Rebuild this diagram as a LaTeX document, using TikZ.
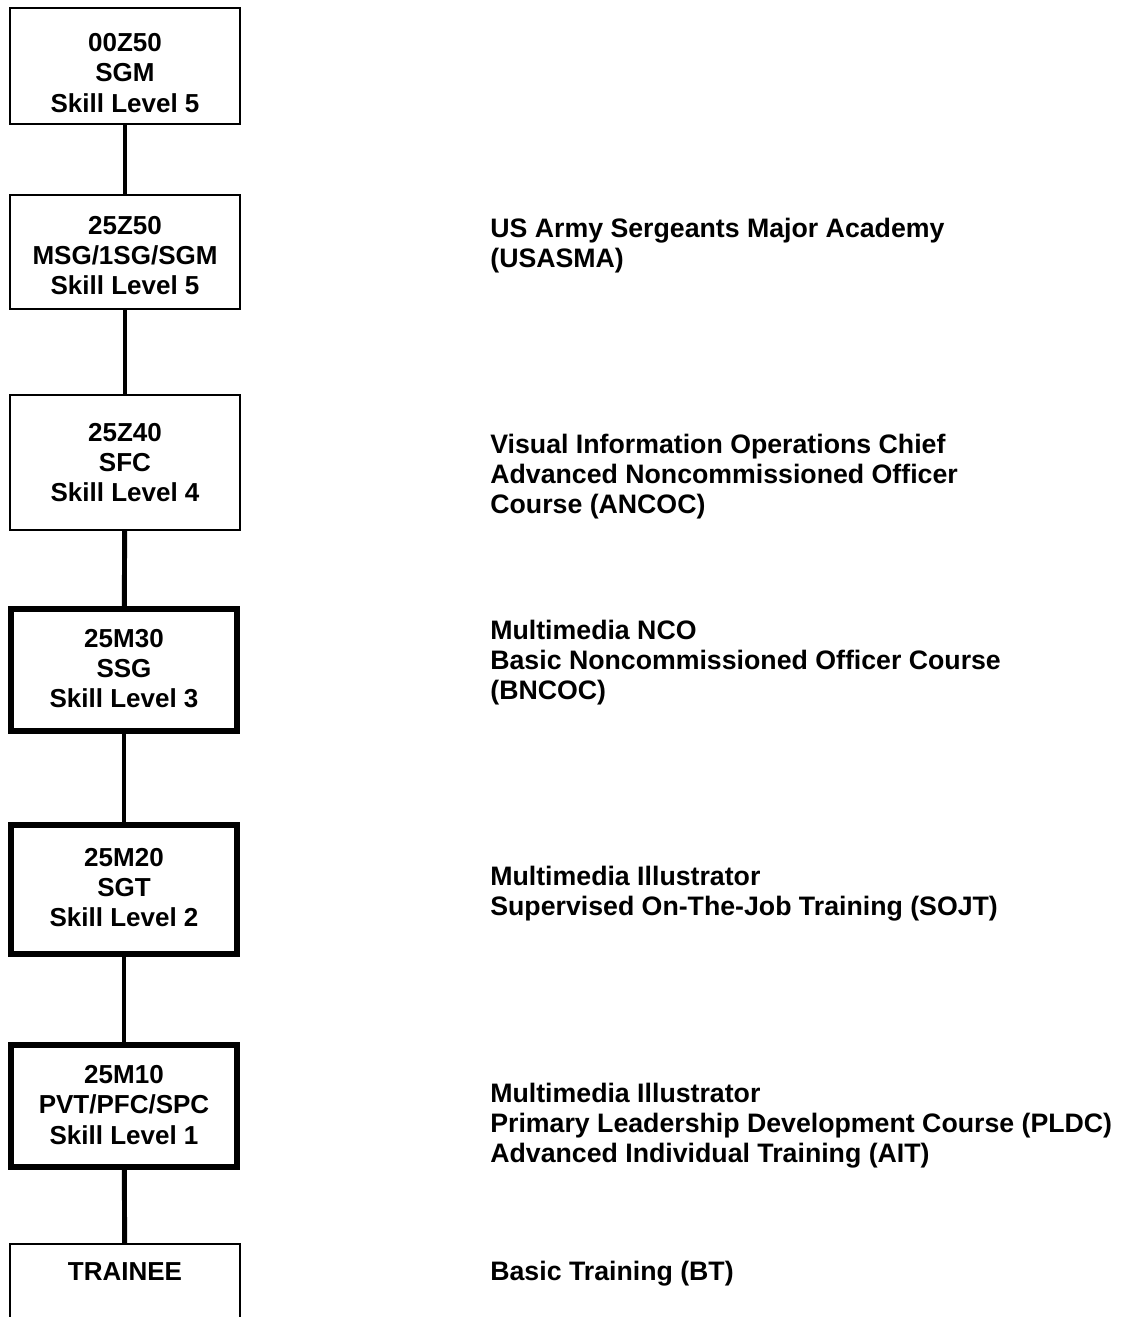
\documentclass[tikz,border=0pt]{standalone}
\usepackage{fontspec}
\setmainfont{Liberation Sans}
\usetikzlibrary{positioning}

\tikzset{
  boxtxt/.style={font=\bfseries\fontsize{14.8}{17.3}\selectfont, align=center},
  thinbox/.style={draw, line width=1.1pt, minimum width=4.6cm},
  thickbox/.style={draw, line width=3.4pt, minimum width=4.54cm},
  course/.style={font=\bfseries\fontsize{15.2}{17.1}\selectfont, align=left, anchor=west, inner sep=0pt},
  link/.style={line width=2.8pt}
}

\begin{document}
\begin{tikzpicture}[x=0.02cm, y=-0.02cm]
\clip (0,0) rectangle (1120,1317);
\fill[white] (0,0) rectangle (1120,1317);

% Rank boxes
\node[thinbox, minimum height=2.32cm, label={[boxtxt, yshift=-0.14cm]center:00Z50\\SGM\\Skill Level 5}] (sgm) at (125,66) {};
\node[thinbox, minimum height=2.28cm, label={[boxtxt, yshift=-0.07cm]center:25Z50\\MSG/1SG/SGM\\Skill Level 5}] (msg) at (125,252) {};
\node[thinbox, minimum height=2.7cm, label={[boxtxt]center:25Z40\\SFC\\Skill Level 4}] (sfc) at (125,462.5) {};
\node[thickbox, minimum height=2.44cm, label={[boxtxt, yshift=0.03cm]center:25M30\\SSG\\Skill Level 3}] (ssg) at (124,670) {};
\node[thickbox, minimum height=2.58cm, label={[boxtxt, yshift=0.04cm]center:25M20\\SGT\\Skill Level 2}] (sgt) at (124,889.5) {};
\node[thickbox, minimum height=2.44cm, label={[boxtxt, yshift=0.02cm]center:25M10\\PVT/PFC/SPC\\Skill Level 1}] (pvt) at (124,1106) {};
\node[thinbox, boxtxt, anchor=north, inner ysep=0pt, text height=0.74cm, text depth=2cm] (trainee) at (125,1243) {TRAINEE};

% Connectors
\draw[link] (sgm) -- (msg);
\draw[link] (msg) -- (sfc);
\draw[link] (sfc) -- (ssg);
\draw[link] (ssg) -- (sgt);
\draw[link] (sgt) -- (pvt);
\draw[link] (pvt) -- (trainee);

% Courses
\node[course] (c5) at (490,246) {US Army Sergeants Major Academy\\(USASMA)};
\node[course] (c4) at (490,477) {Visual Information Operations Chief\\Advanced Noncommissioned Officer\\Course (ANCOC)};
\node[course] (c3) at (490,663) {Multimedia NCO\\Basic Noncommissioned Officer Course\\(BNCOC)};
\node[course] (c2) at (490,894) {Multimedia Illustrator\\Supervised On-The-Job Training (SOJT)};
\node[course] (c1) at (490,1126) {Multimedia Illustrator\\Primary Leadership Development Course (PLDC)\\Advanced Individual Training (AIT)};
\node[course] (c0) at (490,1274) {Basic Training (BT)};

\end{tikzpicture}
\end{document}
